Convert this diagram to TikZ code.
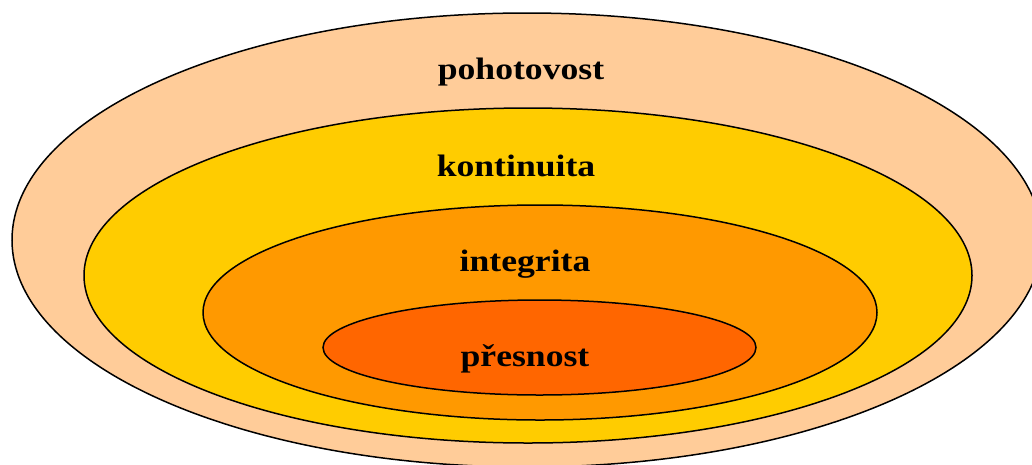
\documentclass[tikz,border=0pt]{standalone}
\usepackage{fontspec}
\setmainfont{Liberation Serif}
\newfontfamily\ringfont[FakeStretch=1.15]{Liberation Serif}
\usetikzlibrary{shapes.geometric}
\definecolor{ringA}{HTML}{FFCC99}
\definecolor{ringB}{HTML}{FFCC00}
\definecolor{ringC}{HTML}{FF9900}
\definecolor{ringD}{HTML}{FF6600}
\tikzset{
  ring/.style={ellipse, draw=black, line width=1.5pt, inner sep=0pt},
  label/.style={font=\ringfont\fontsize{31}{34}\selectfont\bfseries, text=black}
}
\begin{document}
\begin{tikzpicture}[x=1pt, y=-1pt]
  \useasboundingbox (0,0) rectangle (1032,464);
  \clip (0,0) rectangle (1032,464);
  \node[ring, fill=ringA, minimum width=1030pt, minimum height=454pt] (r1) at (527,240) {};
  \node[ring, fill=ringB, minimum width=888pt, minimum height=335pt] (r2) at (528,275.5) {};
  \node[ring, fill=ringC, minimum width=674pt, minimum height=215pt] (r3) at (540,312.5) {};
  \node[ring, fill=ringD, minimum width=433pt, minimum height=95pt] (r4) at (539.5,347.5) {};
  \node[label] (t1) at (521,72) {pohotovost};
  \node[label] (t2) at (516,166) {kontinuita};
  \node[label] (t3) at (525,264) {integrita};
  \node[label] (t4) at (525,359) {přesnost};
\end{tikzpicture}
\end{document}
